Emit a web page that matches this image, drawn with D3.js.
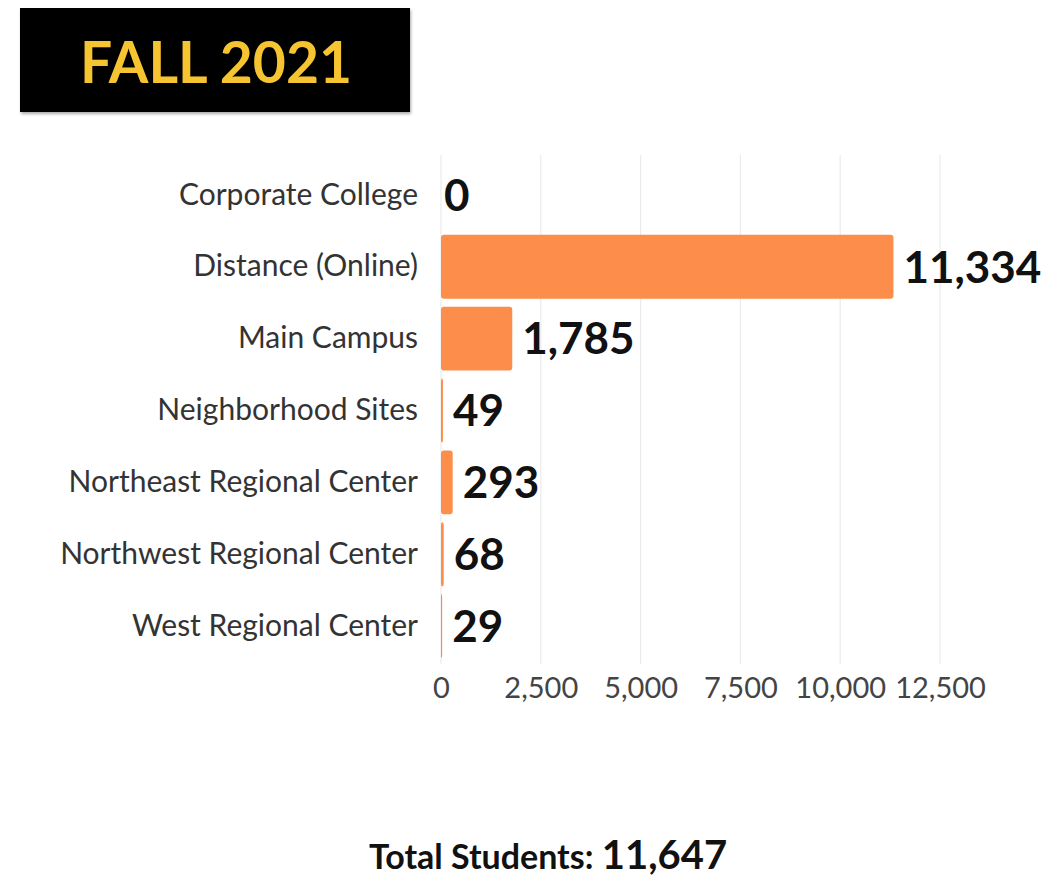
<!DOCTYPE html>
<html><head><meta charset="utf-8">
<script src="https://cdn.jsdelivr.net/npm/d3@7"></script>
<style>body{margin:0;background:#fff;}svg{display:block;font-family:Lato,"Open Sans",sans-serif;}</style>
</head><body>
<svg id="c" width="1061" height="879"></svg>
<script>
const categories = ["Corporate College","Distance (Online)","Main Campus","Neighborhood Sites","Northeast Regional Center","Northwest Regional Center","West Regional Center"];
const values = [0, 11334, 1785, 49, 293, 68, 29];
const tickValues = [0, 2500, 5000, 7500, 10000, 12500];
const title = "FALL 2021";
const totalLabel = "Total Students: ";
const totalValue = 11647;

const svg = d3.select("#c");
const fmt = d3.format(",");

// title box
const defs = svg.append("defs");
const f = defs.append("filter").attr("id","sh").attr("x","-5%").attr("y","-10%").attr("width","110%").attr("height","130%");
f.append("feDropShadow").attr("dx",1).attr("dy",2).attr("stdDeviation",1.5).attr("flood-color","#888").attr("flood-opacity",0.7);
svg.append("rect").attr("x",20).attr("y",8).attr("width",390).attr("height",104).attr("fill","#000").attr("filter","url(#sh)");
svg.append("text").attr("x",216).attr("y",83).attr("text-anchor","middle")
  .attr("font-size",57).attr("font-weight",700).attr("fill","#f6c431").text(title);

const x = d3.scaleLinear().domain([0,12500]).range([441,940]);
const y = d3.scaleBand().domain(categories).range([159,662]).paddingInner(0.11).paddingOuter(0.055);

// grid
svg.append("g").selectAll("line").data(tickValues).join("line")
  .attr("x1",d=>x(d)).attr("x2",d=>x(d)).attr("y1",155).attr("y2",664)
  .attr("stroke","#ebebeb").attr("stroke-width",1.2);

// bars
svg.append("g").selectAll("rect").data(values).join("rect")
  .attr("x",x(0)).attr("y",(d,i)=>y(categories[i]))
  .attr("width",d=>Math.max(0,x(d)-x(0))).attr("height",y.bandwidth())
  .attr("rx",3).attr("fill","#fc8d4a");

// value labels
svg.append("g").selectAll("text").data(values).join("text")
  .attr("x",d=>x(d)+(d===0?3:10)).attr("y",(d,i)=>y(categories[i])+y.bandwidth()/2)
  .attr("dy","0.36em").attr("font-size",44).attr("font-weight",700).attr("fill","#111")
  .text(d=>fmt(d));

// y axis labels
const ya = d3.axisLeft(y).tickSize(0).tickPadding(0);
const gy = svg.append("g").attr("transform","translate(418,0)").call(ya);
gy.select(".domain").remove();
gy.selectAll("text").attr("font-size",30).attr("fill","#333").attr("font-family","Lato,sans-serif");

// x axis
const xa = d3.axisBottom(x).tickValues(tickValues).tickSize(0).tickPadding(0).tickFormat(fmt);
const gx = svg.append("g").attr("transform","translate(0,677)").call(xa);
gx.select(".domain").remove();
gx.selectAll("text").attr("font-size",29).attr("fill","#444").attr("font-family","Lato,sans-serif").attr("dy","0.71em");

// total
const t = svg.append("text").attr("x",548).attr("y",869).attr("text-anchor","middle").attr("fill","#111").attr("font-weight",700);
t.append("tspan").attr("font-size",34).text(totalLabel);
t.append("tspan").attr("font-size",40).text(fmt(totalValue));
</script>
</body></html>
